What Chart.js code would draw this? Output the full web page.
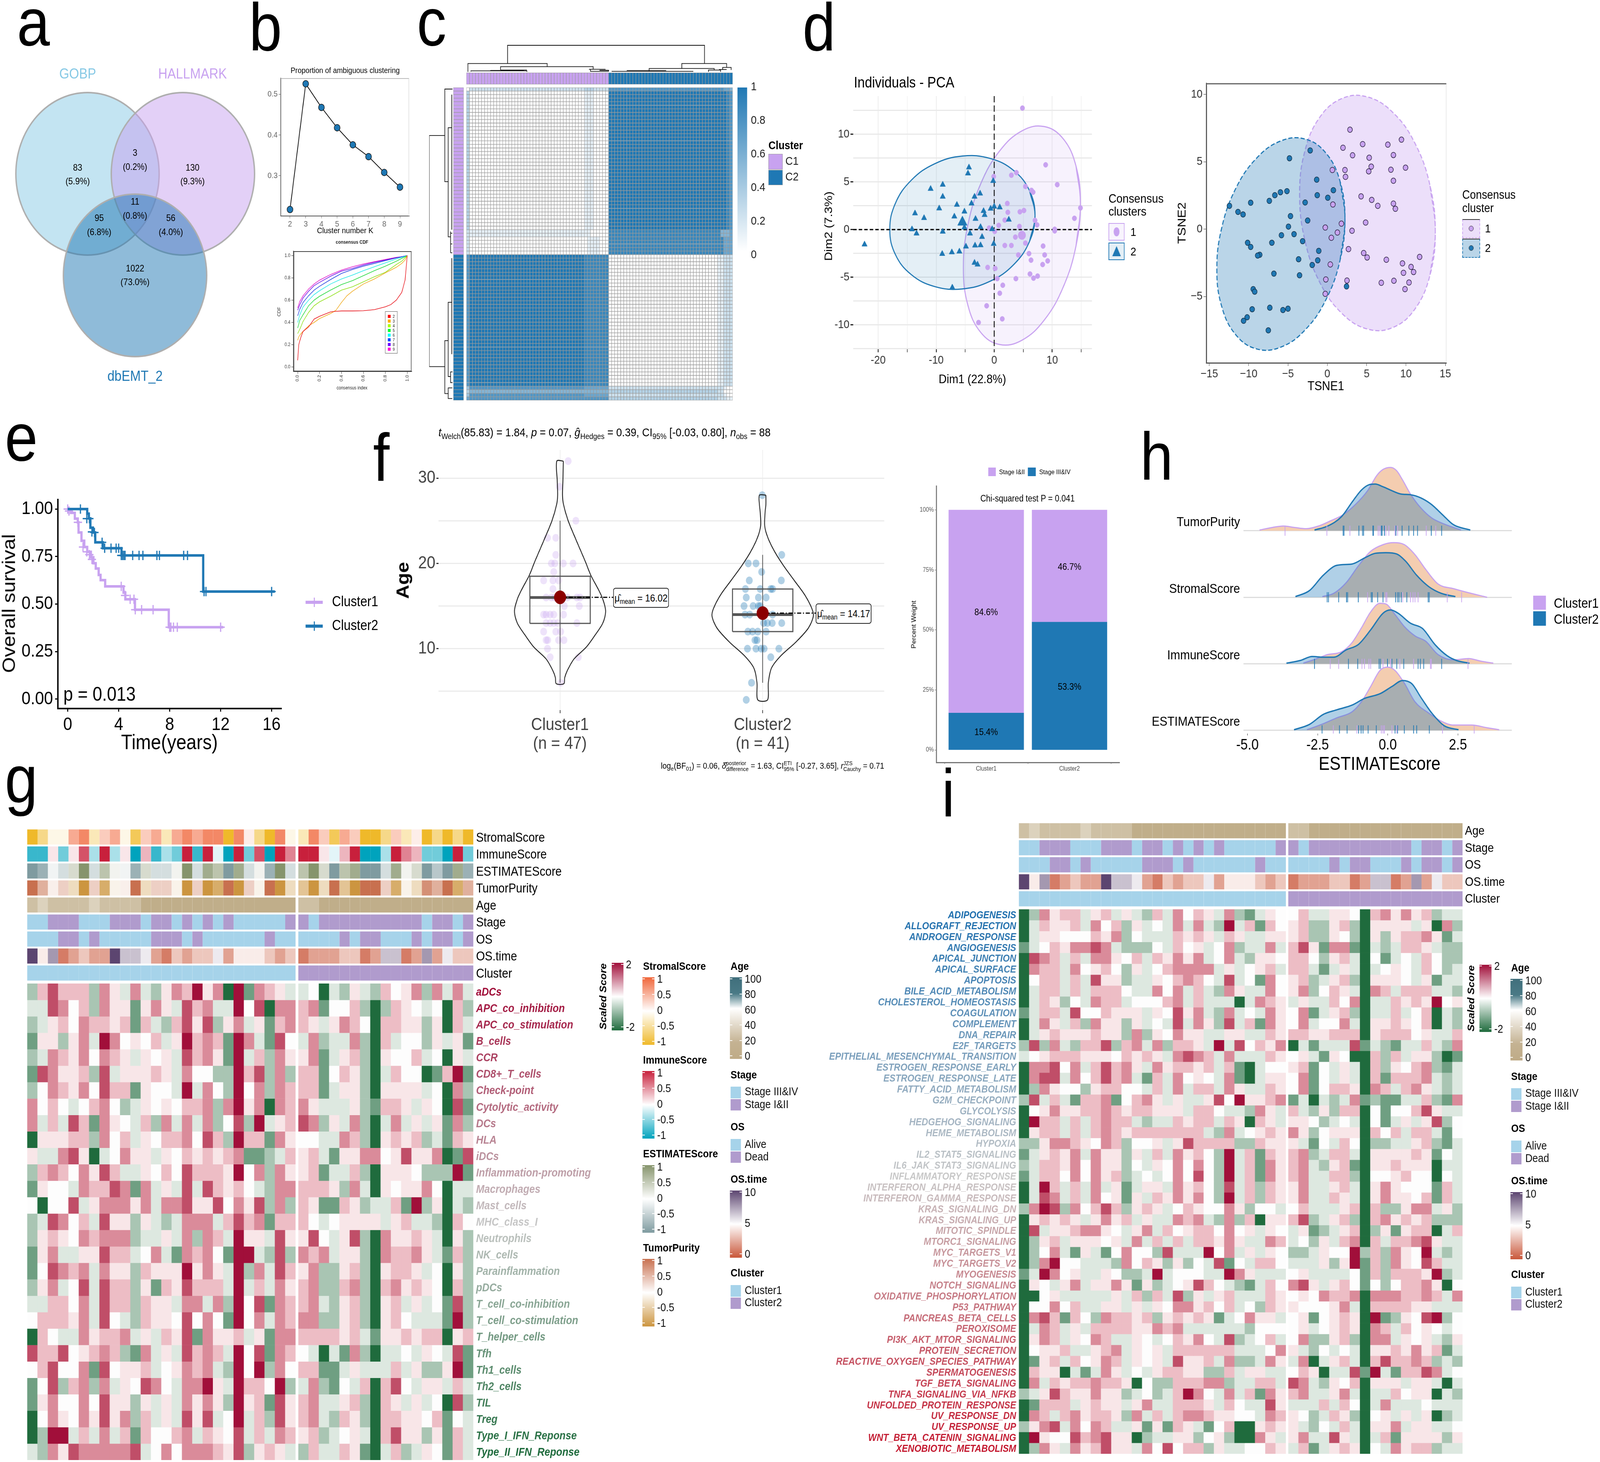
<!DOCTYPE html>
<html>
<head>
<meta charset="utf-8">
<script src="https://cdn.jsdelivr.net/npm/chart.js@4"></script>
<style>
  html, body { margin: 0; padding: 0; background: #fff; width: 100%; height: 100%; overflow: hidden; }
  #page { position: relative; width: 4645px; height: 3743px; overflow: hidden; transform-origin: 0 0; font-family: "Liberation Sans", Arial, sans-serif; }
  #page canvas { position: absolute; }
  .t { position: absolute; white-space: nowrap; line-height: 1; z-index: 5; }
  .t sub, .t sup { font-size: .68em; line-height: 0; }
  .b { position: absolute; box-sizing: border-box; z-index: 4; }
</style>
</head>
<body>
<div id="page"></div>
<script>
// ---- panel a
const vennSets = ['GOBP', 'HALLMARK', 'dbEMT_2'];
const vennCounts = [83, 130, 3, 11, 95, 56, 1022];
const vennPercents = ['5.9', '9.3', '0.2', '0.8', '6.8', '4.0', '73.0'];

// ---- panel b
const clusterK = [2, 3, 4, 5, 6, 7, 8, 9];
const ambiguous = [0.217, 0.526, 0.468, 0.418, 0.376, 0.347, 0.308, 0.272];
const cdfLabels = ['2', '3', '4', '5', '6', '7', '8', '9'];
const cdfXFine = [0, .01, .03, .05, .1, .15, .2, .3, .35, .4, .45, .5, .6, .7, .8, .85, .9, .95, .98, 1];
const cdf2 = [.06, .2, .27, .32, .36, .43, .455, .495, .5, .503, .503, .503, .505, .515, .54, .56, .6, .67, .78, 1];
const cdf3 = [.24, .27, .3, .32, .37, .4, .435, .48, .51, .58, .64, .68, .745, .79, .845, .87, .895, .93, .96, 1];
const cdfX = [0, .02, .05, .1, .15, .2, .3, .4, .5, .6, .7, .8, .9, .95, 1];
const cdf4 = [.3, .34, .41, .49, .55, .585, .635, .69, .72, .765, .81, .85, .92, .95, 1];
const cdf5 = [.35, .42, .47, .55, .6, .635, .69, .74, .775, .82, .865, .905, .95, .975, 1];
const cdf6 = [.4, .47, .54, .6, .65, .685, .745, .79, .825, .865, .9, .935, .97, .985, 1];
const cdf7 = [.46, .52, .58, .64, .69, .725, .785, .84, .875, .905, .93, .955, .98, .99, 1];
const cdf8 = [.51, .56, .62, .68, .73, .76, .815, .86, .885, .915, .94, .96, .98, .99, 1];
const cdf9 = [.53, .59, .64, .7, .745, .78, .83, .87, .9, .925, .945, .965, .985, .99, 1];

// ---- panel c: consensus matrix, rows of the same look share a run list [digit, count]
const consensusRuns = {
  top: [[0, 1], [2, 38], [3, 3], [2, 5], [7, 38], [6, 2], [5, 1]],
  a: [[3, 1], [0, 38], [1, 3], [0, 5], [9, 39], [8, 1], [7, 1]],
  b: [[2, 1], [1, 40], [0, 6], [8, 37], [5, 3], [6, 1]],
  c: [[2, 1], [0, 39], [1, 4], [0, 3], [8, 38], [6, 3]],
  d: [[7, 1], [9, 38], [8, 8], [0, 36], [1, 2], [2, 3]],
  e: [[4, 1], [7, 38], [6, 8], [2, 38], [1, 1], [0, 2]],
  f: [[3, 1], [5, 46], [3, 36], [2, 2], [0, 3]],
  g: [[6, 1], [7, 46], [3, 36], [2, 3], [1, 2]]
};
const consensusRowOrder = [['top', 1], ['a', 39], ['b', 2], ['c', 5], ['d', 37], ['e', 1], ['f', 1], ['e', 1], ['g', 1]];
const consensusC1 = 47, consensusC2 = 41;
const dendroTop = [
  [13.6, .35, 13.6, 1.05, 78.7, 1.05, 78.7, .35],
  [.5, .03, .5, .35, 26.7, .35, 26.7, .23],
  [11.3, .1, 11.3, .23, 41.9, .23, 41.9, .13],
  [1.5, .04, 1.5, .07, 20, .07, 20, .03], [8, .07, 8, .085, 19, .085], [11.3, .1, 20, .1],
  [40.5, .13, 46, .13], [41, .13, 41, .05, 46.9, .05], [44, .09, 47, .09, 47, .04],
  [71.2, .16, 71.2, .35, 86, .35, 86, .2],
  [60.4, .06, 60.4, .16, 81.9, .16, 81.9, .1],
  [48, .05, 75, .05], [53, .08, 66, .08], [80, .03, 80, .1, 84, .1, 84, .03],
  [84.7, .12, 84.7, .2, 87.5, .2, 87.5, .1], [83.5, .12, 86, .12]
];
const dendroLeft = [
  [.343, 13.5, 1, 13.5, 1, 78.5, .343, 78.5],
  [.02, .44, .343, .44, .343, 26.5, .2, 26.5],
  [.05, 11.3, .2, 11.3, .2, 42, .1, 42],
  [.05, 2, .05, 40], [.03, 41, .1, 41], [.03, 44, .1, 44], [.03, 46.5, .1, 46.5], [.1, 40.5, .1, 46.5],
  [.2, 71.2, .343, 71.2, .343, 86.1, .2, 86.1],
  [.05, 60.4, .2, 60.4, .2, 81.3, .1, 81.3], [.05, 48, .05, 75],
  [.03, 84.5, .2, 84.5, .2, 87.5, .03, 87.5], [.02, 80, .1, 80, .1, 83, .02, 83]
];

// ---- panel d
const pca1X = [4.87, 8.87, 3.83, -.09, 2.96, 5.39, 6.43, 6.7, 10.87, 14.87, 13.83, 2.26, 2.35, 4.43, 5.13, 1.83, 7.04, 7.39, .78, 4.35, -.87, 10.43, 10.43, .09, 3.65, 5.39, 1.83, 2.96, 8.43, 4.17, 6, 8.7, 6.35, 9.22, 8.35, -1.13, .17, 6.17, 7.48, 6.78, 3.74, .52, 1.48, .96, -1.3, 1.39, -2.7];
const pca1Y = [12.74, 6.79, 5.97, 5.56, 5.7, 4.52, 4.11, 3.92, 4.71, 2.27, 1.18, 2.74, 1.81, 1.86, 2, .99, .96, .49, .44, .33, .16, .03, -.14, -.19, -.79, -1.42, -1.67, -1.67, -1.73, -2.66, -2.52, -2.66, -3.21, -3.29, -3.67, -3.97, -4.08, -4.66, -4.88, -5.1, -5.15, -5.15, -5.84, -6.68, -8, -9.37, -9.75];
const pca2X = [-4.35, -4.52, -.17, -8.87, -10.96, -2.43, -8.87, -3.39, -3.91, -6.43, 0, .96, -9.48, -.61, -1.83, -5.13, -1.65, -13.65, -6.87, -12.09, -3.22, 2.52, -5.13, -2.35, -.35, -14.17, -8.87, -13.39, -4.17, -2.09, -.09, -4.87, -3.3, -2.35, -8.96, -7.3, -6, -3.39, -2.87, -7.22, -22.35];
const pca2Y = [6.52, 5.89, 5.1, 4.71, 4.27, 3.78, 3.45, 3.45, 2.74, 2.6, 2.41, 2.33, 2.22, 2.19, 1.95, 1.89, 1.53, 1.7, 1.37, 1.21, 1.12, 1.04, .22, .27, .05, .03, -.22, -.41, -.41, -.77, -1.5, -1.78, -1.67, -1.64, -2.55, -2.38, -2.3, -3.48, -3.67, -6.08, -1.56];
const pcaMean1 = [4.78, -.6], pcaMean2 = [-5.48, .77];
const pcaHull1X = [14.87, 14.1, 11.91, 8.64, 4.78, .92, -2.35, -4.54, -5.31, -4.54, -2.35, .92, 4.78, 8.64, 11.91, 14.1];
const pcaHull1Y = [2.73, -1.73, -6.02, -9.49, -11.61, -12.06, -10.77, -7.93, -3.98, .47, 4.76, 8.23, 10.35, 10.8, 9.51, 6.67];
const pcaHull2X = [7.04, 6.09, 3.37, -.69, -5.48, -10.27, -14.33, -17.05, -18, -17.05, -14.33, -10.27, -5.48, -.69, 3.37, 6.09];
const pcaHull2Y = [1.47, -1.25, -3.67, -5.42, -6.23, -5.98, -4.71, -2.6, 0, 2.73, 5.15, 6.9, 7.71, 7.46, 6.19, 4.08];
const tsne1X = [2.88, 9.42, 4.49, 7.69, 1.99, 3.21, 8.4, 5.32, 5.58, 9.94, 2.24, 5.26, 8.08, .64, 2.31, 8.4, 4.29, 5.64, 8.4, 6.41, 8.65, 4.87, 3.14, -.26, 1.28, .51, 2.69, 4.62, 5.06, 7.5, 9.55, 11.73, 10.64, .38, 9.68, 10.96, -.19, 2.5, 6.86, 8.46, 10.38, 9.87, -.26, .71, 1.79];
const tsne1Y = [7.38, 6.64, 6.31, 6.27, 6.04, 5.48, 5.5, 5.3, 4.64, 4.56, 4.39, 4.29, 4.41, 4.39, 3.88, 3.59, 2.43, 2.17, 1.9, 1.73, 1.51, .49, -.12, .12, -.25, -.64, -1.48, -1.77, -2.1, -2.27, -2.54, -2.06, -2.8, -2.62, -3.24, -3.18, -3.73, -3.81, -3.98, -3.83, -3.96, -4.45, -4.8, 1.83, .41];
const tsne2X = [-2.18, -4.81, -1.35, -5.13, -5.96, -6.67, -7.37, -1.28, .77, .06, -2.82, -12.44, -9.74, -11.35, -10.71, -4.68, -2.5, -4.94, -4.23, -5.83, -3.14, -10.13, -7.05, -9.74, -8.59, -8.85, -3.65, -1.09, -1.22, -1.92, -6.79, -3.53, -9.42, -9.23, -9.55, -7.31, -5, -5.64, -10.19, -10.64, -7.5, 2.44];
const tsne2Y = [5.84, 5.26, 3.67, 2.82, 2.74, 2.52, 2.1, 2.52, 2.89, 2.33, 1.98, 1.73, 1.96, 1.28, 1.09, .97, .64, .19, -.37, -.45, -.89, -1.01, -1.01, -1.32, -1.9, -1.96, -2.23, -1.61, -2.31, -2.66, -3.3, -3.42, -4.45, -4.64, -5.94, -5.83, -5.9, -6, -6.54, -6.8, -7.51, -4.25];
const tsneHull1X = [13.72, 13.06, 11.2, 8.4, 5.1, 1.8, -1, -2.86, -3.52, -2.86, -1, 1.8, 5.1, 8.4, 11.2, 13.06];
const tsneHull1Y = [-.19, -3.38, -5.87, -7.28, -7.41, -6.22, -3.9, -.81, 2.59, 5.78, 8.27, 9.68, 9.81, 8.62, 6.3, 3.21];
const tsneHull2X = [2.24, 1.62, -.14, -2.78, -5.9, -9.02, -11.66, -13.42, -14.04, -13.42, -11.66, -9.02, -5.9, -2.78, -.14, 1.62];
const tsneHull2Y = [.76, -2.3, -5.19, -7.45, -8.75, -8.88, -7.82, -5.74, -2.97, .1, 2.99, 5.25, 6.55, 6.68, 5.62, 3.54];

// ---- panel e
const kmTime1 = [0, .25, .56, .79, .85, 1.08, 1.3, 1.53, 1.82, 2.02, 2.2, 2.43, 2.58, 2.94, 4.38, 4.52, 5.28, 7.93, 12.2];
const kmSurv1 = [1, .98, .95, .93, .877, .833, .8, .775, .746, .715, .687, .653, .626, .593, .56, .525, .47, .378, .378];
const kmTime2 = [0, 1.42, 1.53, 1.66, 1.78, 1.98, 2.16, 2.76, 4.22, 10.63, 16.25];
const kmSurv2 = [1, 1, .976, .951, .902, .877, .825, .794, .756, .566, .566];
const kmCensorT1 = [0, .1, .8, 1.2, 1.5, 1.7, 1.9, 4.2, 4.5, 4.9, 5.2, 5.3, 5.8, 6.7, 8, 8.1, 8.3, 8.6, 12];
const kmCensorS1 = [1, .99, .93, .8, .775, .76, .735, .593, .545, .525, .525, .47, .47, .47, .378, .378, .378, .378, .378];
const kmCensorT2 = [1, 1.5, 1.7, 1.9, 2.1, 2.7, 2.9, 3.4, 3.8, 4, 4.2, 4.3, 4.4, 4.5, 5.1, 5.6, 5.9, 7, 7.2, 9.1, 9.4, 10.7, 10.85, 16];
const kmCensorS2 = [1, .95, .95, .88, .877, .825, .794, .794, .794, .794, .756, .756, .756, .756, .756, .756, .756, .756, .756, .756, .756, .566, .566, .566];

// ---- panel f
const violinAge1 = [32, 29.7, 28, 26.9, 25, 22.7, 20.2, 18.6, 16.9, 15.8, 14.4, 13, 11.6, 10.2, 8.8, 7.4, 6.6, 5.9];
const violinWidth1 = [.016, .014, .012, .017, .04, .08, .125, .152, .19, .211, .225, .211, .173, .13, .069, .035, .023, .019];
const violinAge2 = [28, 26.9, 26, 24.4, 23, 21.3, 19.7, 18, 16.3, 14.7, 13.8, 12.4, 10.8, 9.1, 7.7, 6, 4];
const violinWidth2 = [.016, .016, .012, .01, .026, .061, .104, .156, .208, .243, .25, .225, .165, .087, .043, .028, .024];
const ageOffset1 = [.04, -.003, .078, -.062, -.021, -.021, -.043, -.026, .016, .064, -.031, -.081, -.035, -.007, -.035, -.069, -.043, -.026, 0, .036, .083, .099, .021, .095, -.081, -.069, -.049, -.031, .017, -.069, -.049, -.031, -.012, .083, -.081, -.021, .003, -.069, -.061, -.007, .019, -.062, -.049, .09, .003];
const ageValue1 = [32, 29, 25, 23, 23, 21, 20, 20, 20, 20, 19, 18, 18, 18, 17, 16, 16, 16, 16, 16, 16, 16, 15, 15, 14, 14, 14, 14, 14, 13, 13, 13, 13, 13, 12, 12, 12, 11, 11, 11, 11, 10, 9, 9, 6];
const ageOffset2 = [-.002, .094, -.071, -.033, -.005, -.066, .092, -.085, -.012, .04, .049, -.081, -.021, .017, -.092, -.047, -.021, -.012, -.087, -.064, .049, .005, .023, .047, .094, -.073, -.05, -.024, .017, -.038, -.028, -.075, -.033, -.007, .007, .08, .04, -.055, -.081];
const ageValue2 = [28, 21, 20, 20, 19, 18, 18, 17, 17, 17, 17, 16, 16, 16, 15, 15, 15, 15, 14, 14, 14, 13, 13, 13, 13, 12, 12, 12, 12, 11, 11, 10, 10, 10, 10, 10, 9, 6, 4];
const boxQ1 = [12.97, 12], boxMedian = [16, 14], boxQ3 = [18.5, 17], whiskerLow = [6, 6], whiskerHigh = [25, 21];
const ageMeans = [16.02, 14.17];
const stageGroups = ['Cluster1', 'Cluster2'];
const stageEarly = [84.6, 46.7];
const stageLate = [15.4, 53.3];

// ---- panel h
const ridgeNames = ['TumorPurity', 'StromalScore', 'ImmuneScore', 'ESTIMATEScore'];
const tumorX1 = [-4.57, -4.1, -3.72, -3.34, -2.9, -2.47, -2.03, -1.59, -1.16, -.72, -.39, -.17, .1, .32, .53, .81, 1.14, 1.57, 2.01, 2.61];
const tumorH1 = [.01, .05, .07, .05, .03, .07, .15, .24, .39, .6, .83, .92, .95, .9, .76, .55, .36, .19, .1, .01];
const tumorX2 = [-2.61, -2.14, -1.65, -1.27, -.94, -.67, -.45, -.17, .15, .48, .81, 1.19, 1.57, 1.95, 2.34, 2.94];
const tumorH2 = [.01, .07, .21, .43, .61, .69, .7, .66, .6, .55, .54, .49, .39, .24, .09, .01];
const stromalX1 = [-2.33, -1.92, -1.48, -1.05, -.61, -.17, .21, .59, .97, 1.35, 1.79, 2.34, 2.77, 3.54];
const stromalH1 = [.01, .06, .22, .47, .69, .79, .82, .79, .64, .42, .2, .13, .08, 0];
const stromalX2 = [-3.29, -2.79, -2.3, -1.81, -1.27, -.83, -.45, -.07, .32, .64, 1.03, 1.46, 1.9, 2.41];
const stromalH2 = [.01, .1, .33, .48, .5, .59, .66, .67, .65, .54, .33, .16, .06, .01];
const immuneX1 = [-3.01, -2.58, -2.14, -1.65, -1.27, -.94, -.61, -.28, -.07, .26, .59, .97, 1.35, 1.79, 2.34, 2.88, 3.32, 3.76];
const immuneH1 = [.01, .07, .14, .18, .32, .54, .78, .91, .9, .74, .56, .42, .34, .14, .06, .08, .04, .01];
const immuneX2 = [-3.61, -3.12, -2.69, -2.3, -1.92, -1.48, -1.05, -.61, -.17, .1, .37, .81, 1.24, 1.68, 2.12, 2.45, 2.91];
const immuneH2 = [.01, .05, .11, .1, .1, .21, .29, .51, .76, .81, .76, .61, .53, .29, .12, .05, .01];
const estimateX1 = [-2.88, -2.36, -1.81, -1.27, -.94, -.61, -.28, -.01, .26, .59, .97, 1.46, 1.9, 2.34, 2.99, 3.54, 3.97];
const estimateH1 = [.01, .09, .19, .28, .43, .66, .9, .95, .9, .71, .43, .26, .14, .08, .08, .04, .01];
const estimateX2 = [-3.34, -2.79, -2.3, -1.81, -1.27, -.83, -.28, .15, .53, .86, 1.19, 1.57, 2.01, 2.52];
const estimateH2 = [.01, .09, .24, .31, .38, .48, .55, .66, .75, .7, .49, .26, .07, .01];
const tumorRug1 = [-3.66, -2.17, -1.35, -.34, -.28, -.07, .04, .26, .35, 1.37, 1.71];
const tumorRug2 = [-1.59, -1.56, -1.03, -.9, -.86, -.53, -.51, -.23, -.2, -.12, .29, .51, .75, .92, 1.06, 1.55, 1.92];
const stromalRug1 = [2.12, 2.63, -.72, -.07, -.03, .53, .81, .9, .97, 1.08];
const stromalRug2 = [-2.16, -2.11, -1.75, -1.47, -1.43, -1.05, -.59, -.55, -.36, -.17, .28, .35, .4, .48, .68, 1.44, 1.48];
const immuneRug1 = [-2.05, -1.75, -.92, -.83, -.67, -.61, -.17, .1, .43, .92, 1.52, 1.55, 2.86];
const immuneRug2 = [-2.61, -1.4, -1.07, -.31, -.26, -.01, .15, .32, .57, 1.08, 1.16, 1.28, 1.92];
const estimateRug1 = [-1.94, -1.1, -.23, -.17, -.12, .15, .32, 1.95, 3.08];
const estimateRug2 = [-2.34, -1.72, -1.45, -1.04, -.95, -.88, -.7, -.41, .26, .35, .59, .92, 1.03, 1.48];

// ---- annotation tracks shared by panels g and i: digit per sample, left block | right block
const trackStromal = '02447 83674 16737 87880 85208 4|38617 60026 35020 20';
const trackImmune = '11525 83935 06132 91940 92809 7|99546 90039 76220 92';
const trackEstimate = '01436 93754 16335 93870 83519 3|79607 80038 56020 81';
const trackTumor = '97563 06145 93664 06019 06490 3|20392 09961 43879 17';
const trackAge = '12111 12111 10000 00000 00000 0|11000 00000 00000 00';
const trackStage = '00111 00011 10110 10101 00000 1|10 11111 11111 0 11 0 1';
const trackOS = '00011 01000 00111 01000 00010 0|00001 01100 01011 01';
const trackOSTime = '94712 32296 65213 23352 44432 33|12223 31266 12725 33';

// ---- panel g rows
const immuneRowNames = ['aDCs', 'APC_co_inhibition', 'APC_co_stimulation', 'B_cells', 'CCR', 'CD8+_T_cells', 'Check-point', 'Cytolytic_activity', 'DCs', 'HLA', 'iDCs', 'Inflammation-promoting', 'Macrophages', 'Mast_cells', 'MHC_class_I', 'Neutrophils', 'NK_cells', 'Parainflammation', 'pDCs', 'T_cell_co-inhibition', 'T_cell_co-stimulation', 'T_helper_cells', 'Tfh', 'Th1_cells', 'Th2_cells', 'TIL', 'Treg', 'Type_I_IFN_Reponse', 'Type_II_IFN_Reponse'];
const immuneRows = [
  '26866 62753 73257 69570 91765 3|34032 53264 57273 73',
  '33874 62755 15753 86733 94807 7|67144 62026 54340 62',
  '23564 76656 16326 85825 73516 7|65357 64066 55250 63',
  '15525 73974 54635 96761 97318 4|37233 72063 44253 51',
  '23765 74765 35453 86751 93627 5|57135 62054 46340 53',
  '18755 62835 55653 74422 96827 2|66146 52036 44016 91',
  '24765 74866 15443 93742 94727 6|66135 52055 55340 72',
  '74643 46742 35454 66727 95707 6|75333 52166 53540 81',
  '73638 61754 36273 73724 82935 6|87253 72037 35351 72',
  '05556 62746 35466 74862 96617 5|44337 62056 56231 65',
  '53378 50347 55354 65656 71123 6|56315 57745 85570 18',
  '26764 75863 35464 86665 94727 5|56133 62055 54222 91',
  '15443 76687 17353 83865 64327 7|66652 73054 55740 33',
  '40448 35777 57377 85584 75827 2|65116 52336 19250 32',
  '23874 63855 25323 77736 86716 6|64345 55535 63320 64',
  '25654 76777 23353 72763 95538 5|58435 82075 56530 52',
  '15733 55866 34731 76741 99328 2|76735 52076 67531 62',
  '14876 73755 26555 95753 92738 6|57225 62056 65340 52',
  '25734 83866 25165 86663 93637 5|67226 72067 56540 62',
  '33664 73866 26553 77372 94817 6|67325 62056 35341 82',
  '46665 73843 26554 84741 94737 6|77225 62056 43331 92',
  '06433 75667 35365 81755 63517 7|66665 63155 65660 56',
  '86684 56762 17353 86763 94817 6|43031 72033 43543 81',
  '46844 71845 56345 76732 94927 4|66113 53336 35225 91',
  '14826 72735 48743 77953 96649 2|37214 36068 43553 63',
  '15744 74855 25353 75752 95618 5|67335 62065 35340 82',
  '04754 75857 26353 85834 93628 5|67326 52066 55461 43',
  '02993 63736 16446 73654 83637 6|56234 53068 55251 63',
  '32758 77777 83474 77765 82565 3|26336 51036 23541 63'
];

// ---- panel i rows
const hallmarkRowNames = ['ADIPOGENESIS', 'ALLOGRAFT_REJECTION', 'ANDROGEN_RESPONSE', 'ANGIOGENESIS', 'APICAL_JUNCTION', 'APICAL_SURFACE', 'APOPTOSIS', 'BILE_ACID_METABOLISM', 'CHOLESTEROL_HOMEOSTASIS', 'COAGULATION', 'COMPLEMENT', 'DNA_REPAIR', 'E2F_TARGETS', 'EPITHELIAL_MESENCHYMAL_TRANSITION', 'ESTROGEN_RESPONSE_EARLY', 'ESTROGEN_RESPONSE_LATE', 'FATTY_ACID_METABOLISM', 'G2M_CHECKPOINT', 'GLYCOLYSIS', 'HEDGEHOG_SIGNALING', 'HEME_METABOLISM', 'HYPOXIA', 'IL2_STAT5_SIGNALING', 'IL6_JAK_STAT3_SIGNALING', 'INFLAMMATORY_RESPONSE', 'INTERFERON_ALPHA_RESPONSE', 'INTERFERON_GAMMA_RESPONSE', 'KRAS_SIGNALING_DN', 'KRAS_SIGNALING_UP', 'MITOTIC_SPINDLE', 'MTORC1_SIGNALING', 'MYC_TARGETS_V1', 'MYC_TARGETS_V2', 'MYOGENESIS', 'NOTCH_SIGNALING', 'OXIDATIVE_PHOSPHORYLATION', 'P53_PATHWAY', 'PANCREAS_BETA_CELLS', 'PEROXISOME', 'PI3K_AKT_MTOR_SIGNALING', 'PROTEIN_SECRETION', 'REACTIVE_OXYGEN_SPECIES_PATHWAY', 'SPERMATOGENESIS', 'TGF_BETA_SIGNALING', 'TNFA_SIGNALING_VIA_NFKB', 'UNFOLDED_PROTEIN_RESPONSE', 'UV_RESPONSE_DN', 'UV_RESPONSE_UP', 'WNT_BETA_CATENIN_SIGNALING', 'XENOBIOTIC_METABOLISM'];
const hallmarkRows = [
  '02756 63563 53263 74653 72135 4|46335 54067 57562 33',
  '03655 63746 25343 73732 93616 4|56225 62055 55350 72',
  '03554 44657 24333 65653 65335 5|56225 42052 56675 13',
  '13465 77873 22243 64534 72337 3|68517 71032 36653 22',
  '08763 63775 46365 75734 73255 4|66425 63041 34364 22',
  '07663 74564 25346 77773 53456 3|66313 53034 54364 23',
  '04663 63855 23354 67643 83417 4|56235 62055 54351 33',
  '03663 63666 43374 73632 75337 4|57246 53076 36663 32',
  '03652 43766 34446 73633 30376 5|35336 47033 65659 45',
  '13663 84465 55354 85732 73437 5|47135 62033 63460 32',
  '03753 62755 25343 83752 83617 5|47344 73055 65460 32',
  '03565 55655 27254 75533 55336 5|66556 66056 66453 36',
  '28273 26682 67372 66539 38465 7|03133 38132 13363 27',
  '34566 65554 65653 78763 73336 5|45315 40062 63552 01',
  '07784 73686 75375 66563 61034 4|56143 53062 54672 13',
  '07883 74686 73163 74543 71035 5|47143 53061 66673 23',
  '02754 42566 44363 73663 75336 5|47146 65076 36753 23',
  '28363 16671 46753 53358 49556 7|13032 37121 13362 17',
  '04575 56676 56655 53664 33275 3|63252 66041 44685 33',
  '09663 63676 63233 65663 65065 3|55423 43041 35358 24',
  '05663 63676 56666 66632 73456 5|75245 55064 63663 14',
  '22577 65476 24453 58666 62265 5|53143 64022 33562 13',
  '13565 73755 25363 75642 93616 5|67236 63055 55651 43',
  '23665 74755 24354 74742 93617 5|67325 61055 65550 33',
  '13664 74756 23434 74842 93617 5|67336 62044 56440 43',
  '03963 63735 13553 75642 83626 5|57335 63057 54441 63',
  '03873 63745 15365 75742 93626 5|57336 53057 55461 63',
  '27982 74686 25653 46544 75244 3|46333 56062 25773 52',
  '05656 53575 63533 76732 72605 5|68235 62067 56562 22',
  '08355 67754 35736 45664 74535 4|35123 56025 15660 36',
  '02563 55545 37363 63665 75337 6|34253 67063 66785 33',
  '02473 15314 74428 33394 73535 4|22354 49262 75493 23',
  '02794 43332 74652 52438 14366 4|33352 59162 75486 33',
  '13974 53354 22393 44433 97533 3|45333 34162 66659 23',
  '05435 73557 51523 45864 32136 4|78535 64142 46675 04',
  '00453 33335 36263 82535 63336 5|45476 67077 76676 37',
  '04474 63355 35354 77564 63426 5|54445 73066 66553 33',
  '07861 64276 65625 65651 34755 3|45145 65091 25489 24',
  '03763 53666 65576 73333 33244 4|45345 65076 36454 34',
  '05763 54763 35434 65743 82346 3|47225 62077 35453 25',
  '04556 33567 35453 66666 63334 7|53243 43055 65756 13',
  '01563 64576 35453 85563 72237 5|37035 63068 66762 32',
  '06550 31375 34356 65522 63553 3|46503 38193 16687 34',
  '07365 66766 50422 66677 23366 3|87325 46055 53553 03',
  '23586 55755 23423 69743 73617 5|67335 73033 64550 32',
  '01666 35655 35733 66653 64338 5|33363 64037 33343 33',
  '07636 75665 27363 67765 54437 6|54236 52045 35350 23',
  '25783 74763 35151 65314 60056 5|53243 63055 73553 34',
  '09544 86785 50233 55245 20075 3|57338 53036 15555 25',
  '02753 75685 53748 46625 33446 5|36135 65043 75662 33'
];

// ---- colours
const PURPLE = '#c8a2f0', BLUE = '#1f78b4', LBLUE = '#87c9e5';
const TRACK_BLUE = '#a6d3ea', TRACK_PURPLE = '#b09bcd';
const heatPalette = ['#1f6b3d', '#6f9f82', '#a9c5b3', '#dde8e0', '#fdfdfd', '#f8e6e8', '#edbdc5', '#da8b9a', '#c04e68', '#a10f3a'];

Chart.defaults.font.family = '"Liberation Sans", Arial, sans-serif';
Chart.defaults.animation = false;
Chart.defaults.responsive = false;
Chart.defaults.devicePixelRatio = 1;
Chart.defaults.plugins.legend.display = false;
Chart.defaults.plugins.tooltip.enabled = false;

const page = document.getElementById('page');
// the browser may cap the window below the figure size, so fit the figure to what is there
page.style.transform = `scale(${Math.min(1, innerWidth / 4645)},${Math.min(1, innerHeight / 3743)})`;

function hex(c) { return [1, 3, 5].map(i => parseInt(c.substr(i, 2), 16)); }
function mix(a, b, t) {
  const A = hex(a), B = hex(b);
  const C = A.map((v, i) => Math.round(v + (B[i] - v) * t));
  return '#' + C.map(v => v.toString(16).padStart(2, '0')).join('');
}
function diverge(low, high) {
  return d => { const v = (d - 4.5) / 4.5; return v < 0 ? mix('#ffffff', low, -v) : mix('#ffffff', high, v); };
}
function pairs(xs, ys) { return xs.map((x, i) => ({ x, y: ys[i] })); }
// outline points of a hull, wrapped round so the curve closes without a kink
function loop(list) { return [list[list.length - 1], ...list, list[0], list[1]]; }

// text placed by its anchor point, y is the vertical middle
function txt(str, x, y, o = {}) {
  const el = document.createElement('div');
  el.className = 't';
  el.innerHTML = str;
  const ax = o.anchor === 'r' ? -100 : o.anchor === 'c' ? -50 : 0;
  el.style.cssText = `left:${x}px;top:${y}px;font-size:${o.size || 30}px;color:${o.color || '#000'};` +
    `font-weight:${o.bold ? 'bold' : 'normal'};font-style:${o.italic ? 'italic' : 'normal'};` +
    `transform:translate(${ax}%,-50%)${o.rot ? ` rotate(${o.rot}deg)` : ''};`;
  page.appendChild(el);
  return el;
}
function box(x0, y0, x1, y1, css) {
  const el = document.createElement('div');
  el.className = 'b';
  el.style.cssText = `left:${x0}px;top:${y0}px;width:${x1 - x0}px;height:${y1 - y0}px;` + css;
  page.appendChild(el);
  return el;
}
function stacked2(sup, sub) {
  return `<span style="display:inline-block;vertical-align:middle;font-size:.68em;line-height:1">${sup}<br>${sub}</span>`;
}

// a chart whose plot area is exactly x0..x1, y0..y1 on the page
function addChart(area, config, margin = 100) {
  const [x0, y0, x1, y1] = area;
  const c = document.createElement('canvas');
  c.width = Math.round(x1 - x0 + 2 * margin);
  c.height = Math.round(y1 - y0 + 2 * margin);
  c.style.left = (x0 - margin) + 'px';
  c.style.top = (y0 - margin) + 'px';
  c.style.width = c.width + 'px';
  c.style.height = c.height + 'px';
  page.appendChild(c);
  const s = config.options.scales;
  const xShown = s.x.display !== false, yShown = s.y.display !== false;
  if (xShown) s.x.afterFit = a => { a.height = margin; };
  if (yShown) s.y.afterFit = a => { a.width = margin; };
  config.options.layout = { autoPadding: false, padding: { top: margin, right: margin, left: yShown ? 0 : margin, bottom: xShown ? 0 : margin } };
  return new Chart(c, config);
}

// cells as stacked bars; colours is rows of per-column colours
function heatChart(area, colours, cell = {}, margin = 2) {
  addChart(area, {
    type: 'bar',
    data: {
      labels: colours[0].map((_, i) => i),
      datasets: colours.map(row => ({
        data: row.map(() => 1),
        backgroundColor: row,
        barPercentage: 1,
        categoryPercentage: 1,
        borderWidth: cell.borderWidth || 0,
        borderColor: cell.borderColor || '#fff',
        borderSkipped: false
      }))
    },
    options: {
      scales: {
        x: { display: false, stacked: true, type: 'category', offset: true },
        y: { display: false, stacked: true, min: 0, max: colours.length, reverse: true }
      }
    }
  }, margin);
}

function outline(xs, ys, stroke, extra = {}) {
  return Object.assign({ data: pairs(xs, ys), showLine: true, pointRadius: 0, borderColor: stroke, borderWidth: 3, backgroundColor: 'transparent' }, extra);
}
function axisTicks(size, color, extra = {}) {
  return Object.assign({ font: { size }, color, autoSkip: false, maxRotation: 0, includeBounds: false }, extra);
}

// panel letters, y is the baseline
const LETTER = 172;
[['a', 49, 114], ['b', 723, 127], ['c', 1210, 114], ['d', 2330, 127], ['e', 14, 1177], ['f', 1083, 1229], ['g', 14, 2052], ['h', 3310, 1226], ['i', 2734, 2088]]
  .forEach(([l, x, y]) => txt(l, x, y - 0.34 * LETTER, { size: LETTER }));

// ---- a: venn
const vennCentres = [[254, 445], [531, 445], [392, 705]];
addChart([0, 200, 800, 960], {
  type: 'bubble',
  data: {
    datasets: [2, 1, 0].map(i => ({
      label: vennSets[i],
      data: [{ x: vennCentres[i][0], y: vennCentres[i][1], r: 208 }],
      backgroundColor: [LBLUE + '80', PURPLE + '80', BLUE + '80'][i],
      borderColor: '#aeaeae',
      borderWidth: 4,
      clip: false
    }))
  },
  options: { scales: { x: { display: false, min: 0, max: 800 }, y: { display: false, min: 200, max: 960, reverse: true } } }
}, 2);
txt(vennSets[0], 225.5, 187.5, { size: 37, color: LBLUE, anchor: 'c' });
txt(vennSets[1], 559, 187.5, { size: 37, color: PURPLE, anchor: 'c' });
txt(vennSets[2], 392, 962, { size: 37, color: BLUE, anchor: 'c' });
[[225.5, 428.7], [559, 428.7], [392, 391], [392, 516], [288, 558], [496, 558], [392, 686.5]].forEach(([x, y], i) => {
  txt(String(vennCounts[i]), x, y, { size: 24, anchor: 'c' });
  txt('(' + vennPercents[i] + '%)', x, y + 35.5, { size: 24, anchor: 'c' });
});

// ---- b: ambiguous clustering
addChart([815, 200, 1188, 553], {
  type: 'scatter',
  data: {
    datasets: [{
      data: pairs(clusterK, ambiguous), showLine: true, borderColor: '#000', borderWidth: 2,
      pointRadius: 8.5, pointBackgroundColor: BLUE, pointBorderColor: '#111', pointBorderWidth: 1.5
    }]
  },
  options: {
    scales: {
      x: { min: 1.41, max: 9.59, grid: { drawOnChartArea: false, tickColor: '#555', tickLength: 6 }, border: { color: '#555', width: 2 }, ticks: axisTicks(21, '#666', { stepSize: 1 }) },
      y: { min: .201, max: .54, grid: { drawOnChartArea: false, tickColor: '#555', tickLength: 6 }, border: { color: '#555', width: 2 }, ticks: axisTicks(21, '#666', { stepSize: .1, callback: v => v.toFixed(1) }) }
    }
  }
});
box(815, 200, 1188, 553, 'border-top:2px solid #bbb;border-right:2px solid #ddd;');
txt('Proportion of ambiguous clustering', 1002, 179.5, { size: 20.5, anchor: 'c' });
txt('Cluster number K', 1002, 589, { size: 21, anchor: 'c' });

// ---- b: consensus CDF
const cdfColours = ['#ff0000', '#ffaa00', '#aaff00', '#00ff2a', '#00ffff', '#0040ff', '#6a00ff', '#ff00d4'];
const cdfLineColours = ['#e8131b', '#f0a818', '#8fe018', '#22d83c', '#22e8e8', '#1c3fe0', '#6a10e8', '#e010c8'];
addChart([852, 643, 1195, 951], {
  type: 'scatter',
  data: {
    datasets: [[cdfXFine, cdf2], [cdfXFine, cdf3], [cdfX, cdf4], [cdfX, cdf5], [cdfX, cdf6], [cdfX, cdf7], [cdfX, cdf8], [cdfX, cdf9]]
      .map(([xs, ys], i) => outline(xs, ys, cdfLineColours[i], { borderWidth: 1.6 }))
  },
  options: {
    scales: {
      x: { min: -.038, max: 1.04, grid: { drawOnChartArea: false, tickColor: '#333', tickLength: 6 }, border: { color: '#333', width: 2 }, ticks: axisTicks(12, '#333', { stepSize: .2, maxRotation: 90, minRotation: 90, callback: v => v.toFixed(1) }) },
      y: { min: -.04, max: 1.04, grid: { drawOnChartArea: false, tickColor: '#333', tickLength: 6 }, border: { color: '#333', width: 2 }, ticks: axisTicks(12, '#333', { stepSize: .2, callback: v => v.toFixed(1) }) }
    }
  }
});
box(852, 643, 1195, 951, 'border:2px solid #444;');
txt('consensus CDF', 1022, 620, { size: 12.5, bold: true, anchor: 'c', color: '#222' });
txt('consensus index', 1022, 993, { size: 12, anchor: 'c', color: '#222' });
txt('CDF', 810, 798, { size: 12, anchor: 'c', rot: -90, color: '#222' });
box(1118, 797, 1154, 905, 'border:1.5px solid #555;background:#fff;');
cdfLabels.forEach((l, i) => {
  box(1126, 806 + i * 12, 1134, 814 + i * 12, `background:${cdfColours[i]};`);
  txt(l, 1143, 810 + i * 12, { size: 11, anchor: 'c', color: '#222' });
});

// ---- c: consensus heatmap
function expandRuns(runs) {
  const out = [];
  runs.forEach(([d, n]) => { for (let i = 0; i < n; i++) out.push(d); });
  return out;
}
const consensusColour = d => mix('#ffffff', BLUE, d / 9);
const consensusColours = [];
consensusRowOrder.forEach(([kind, n]) => {
  const row = expandRuns(consensusRuns[kind]).map(consensusColour);
  for (let i = 0; i < n; i++) consensusColours.push(row);
});
const clusterStrip = [...Array(consensusC1).fill(PURPLE), ...Array(consensusC2).fill(BLUE)];
heatChart([1353.5, 224, 2126.5, 1025], consensusColours, { borderWidth: 1, borderColor: '#9a9a9a' });
heatChart([1353.5, 186, 2126.5, 216], [clusterStrip], { borderWidth: 1, borderColor: '#9a9a9a' });
heatChart([1316, 224, 1346, 1025], clusterStrip.map(c => [c]), { borderWidth: 1, borderColor: '#9a9a9a' });
function polylines(list) {
  return list.map(l => {
    const data = [];
    for (let i = 0; i < l.length; i += 2) data.push({ x: l[i], y: l[i + 1] });
    return { data, showLine: true, pointRadius: 0, borderColor: '#111', borderWidth: 1.8 };
  });
}
addChart([1353.5, 110, 2126.5, 186], {
  type: 'scatter', data: { datasets: polylines(dendroTop) },
  options: { scales: { x: { display: false, min: 0, max: 88 }, y: { display: false, min: 0, max: 1.14 } } }
}, 4);
addChart([1246, 224, 1315, 1025], {
  type: 'scatter', data: { datasets: polylines(dendroLeft) },
  options: { scales: { x: { display: false, min: 0, max: 1, reverse: true }, y: { display: false, min: 0, max: 88, reverse: true } } }
}, 4);
box(2140.6, 224, 2169, 643, `background:linear-gradient(to bottom,${BLUE},#ffffff);`);
[['1', 221], ['0.8', 307], ['0.6', 393], ['0.4', 479], ['0.2', 565], ['0', 651]].forEach(([l, y]) => txt(l, 2180, y, { size: 30, color: '#222' }));
txt('Cluster', 2231, 372, { size: 29, bold: true });
box(2231, 394, 2272, 434, `background:${PURPLE};border:1.5px solid #999;`);
box(2231, 435, 2272, 474, `background:${BLUE};border:1.5px solid #999;`);
txt('C1', 2280, 412, { size: 30, color: '#222' });
txt('C2', 2280, 452, { size: 30, color: '#222' });

// ---- d: PCA
addChart([2477, 246, 3170, 894], {
  type: 'scatter',
  data: {
    datasets: [
      { data: pairs(pca2X, pca2Y), pointStyle: 'triangle', pointRadius: 9, pointBackgroundColor: BLUE, pointBorderColor: BLUE },
      { data: pairs(pca1X, pca1Y), pointRadius: 6.5, pointBackgroundColor: PURPLE, pointBorderColor: PURPLE },
      { data: [{ x: pcaMean2[0], y: pcaMean2[1] }], pointStyle: 'triangle', pointRadius: 16, pointBackgroundColor: BLUE, pointBorderColor: BLUE },
      { data: [{ x: pcaMean1[0], y: pcaMean1[1] }], pointRadius: 11, pointBackgroundColor: PURPLE, pointBorderColor: PURPLE },
      outline([-24.3, 16.85], [0, 0], '#111', { borderWidth: 3.5, borderDash: [10, 6] }),
      outline([0, 0], [14, -12.55], '#111', { borderWidth: 2.5, borderDash: [16, 8] }),
      outline(loop(pcaHull2X), loop(pcaHull2Y), BLUE, { tension: .4, fill: 'shape', backgroundColor: 'rgba(31,120,180,.12)', borderWidth: 3 }),
      outline(loop(pcaHull1X), loop(pcaHull1Y), PURPLE, { tension: .4, fill: 'shape', backgroundColor: 'rgba(200,162,240,.14)', borderWidth: 3 })
    ]
  },
  options: {
    scales: {
      x: { min: -24.3, max: 16.85, grid: { color: '#efefef', lineWidth: c => c.tick.value % 10 === 0 ? 2.5 : 1.5, tickColor: '#222', tickLength: 8 }, border: { display: false }, ticks: axisTicks(30, '#333', { stepSize: 5, callback: v => v % 10 === 0 ? String(v) : '' }) },
      y: { min: -12.55, max: 14, grid: { color: '#e9e9e9', lineWidth: 3, tickColor: c => c.tick.value % 5 === 0 ? '#222' : 'transparent', tickLength: 8 }, border: { display: false }, ticks: axisTicks(30, '#333', { stepSize: 2.5, callback: v => v % 5 === 0 ? String(v) : '' }) }
    }
  }
});
txt('Individuals - PCA', 2479, 211, { size: 38 });
txt('Dim1 (22.8%)', 2823, 970, { size: 32, anchor: 'c' });
txt('Dim2 (7.3%)', 2404, 579, { size: 32, anchor: 'c', rot: -90 });
txt('Consensus', 3218, 508, { size: 32 });
txt('clusters', 3218, 541, { size: 32 });
box(3218, 571, 3265, 616, `border:2.5px solid ${PURPLE};background:rgba(200,162,240,.12);`);
box(3233, 582, 3250, 605, `background:${PURPLE};border-radius:50%;`);
box(3218, 621, 3265, 666, `border:2.5px solid ${BLUE};background:rgba(31,120,180,.12);`);
box(3229, 630, 3254, 656, `background:${BLUE};clip-path:polygon(50% 0,100% 100%,0 100%);`);
txt('1', 3282, 594, { size: 30 });
txt('2', 3282, 644, { size: 30 });

// ---- d: tSNE
addChart([3502, 213, 4199, 929], {
  type: 'scatter',
  data: {
    datasets: [
      { data: pairs(tsne2X, tsne2Y), pointRadius: 7, pointBackgroundColor: BLUE, pointBorderColor: '#15324a', pointBorderWidth: 1.5 },
      { data: pairs(tsne1X, tsne1Y), pointRadius: 7, pointBackgroundColor: PURPLE, pointBorderColor: '#2a2040', pointBorderWidth: 1.5 },
      outline(loop(tsneHull2X), loop(tsneHull2Y), BLUE, { tension: .4, fill: 'shape', backgroundColor: 'rgba(31,120,180,.31)', borderDash: [12, 6] }),
      outline(loop(tsneHull1X), loop(tsneHull1Y), PURPLE, { tension: .4, fill: 'shape', backgroundColor: 'rgba(200,162,240,.35)', borderDash: [12, 6] })
    ]
  },
  options: {
    scales: {
      x: { min: -15.38, max: 15.13, grid: { drawOnChartArea: false, tickColor: '#333', tickLength: 8 }, border: { color: '#555', width: 3 }, ticks: axisTicks(30, '#333', { stepSize: 5, callback: v => v < 0 ? '\u2212' + (-v) : String(v) }) },
      y: { min: -9.92, max: 10.83, grid: { drawOnChartArea: false, tickColor: '#333', tickLength: 8 }, border: { color: '#555', width: 3 }, ticks: axisTicks(30, '#333', { stepSize: 5, callback: v => v < 0 ? '\u2212' + (-v) : String(v) }) }
    }
  }
});
box(3502, 213, 4199, 929, 'border-top:3px solid #666;border-right:1.5px solid #ccc;');
txt('TSNE1', 3849, 987, { size: 33, anchor: 'c' });
txt('TSNE2', 3430, 571, { size: 33, anchor: 'c', rot: -90 });
txt('Consensus', 4245, 498, { size: 31 });
txt('cluster', 4245, 532, { size: 31 });
box(4245, 561, 4297, 610, `border:2.5px dashed ${PURPLE};border-top:2.5px solid #333;background:rgba(200,162,240,.35);`);
box(4264, 578, 4278, 592, `background:${PURPLE};border-radius:50%;border:1.5px solid #222;`);
box(4245, 611, 4297, 660, `border:2.5px dashed ${BLUE};border-top:2.5px solid #333;background:rgba(31,120,180,.31);`);
box(4264, 628, 4278, 642, `background:${BLUE};border-radius:50%;border:1.5px solid #222;`);
txt('1', 4311, 585, { size: 30 });
txt('2', 4311, 635, { size: 30 });

// ---- e: survival
function censorSet(ts, ss, colour) {
  return { data: pairs(ts, ss), pointStyle: 'cross', pointRadius: 12, pointBorderWidth: 3.5, pointBorderColor: colour, pointBackgroundColor: colour };
}
addChart([168, 1279, 817, 1814], {
  type: 'scatter',
  data: {
    datasets: [
      outline(kmTime2, kmSurv2, BLUE, { stepped: true, borderWidth: 6.5 }),
      censorSet(kmCensorT2, kmCensorS2, BLUE),
      outline(kmTime1, kmSurv1, PURPLE, { stepped: true, borderWidth: 6.5 }),
      censorSet(kmCensorT1, kmCensorS1, PURPLE)
    ]
  },
  options: {
    scales: {
      x: { min: -.77, max: 16.77, grid: { drawOnChartArea: false, tickColor: '#000', tickWidth: 3, tickLength: 8 }, border: { color: '#000', width: 4 }, ticks: axisTicks(47, '#000', { stepSize: 4, padding: 6 }) },
      y: { min: -.05, max: 1.05, grid: { drawOnChartArea: false, tickColor: '#000', tickWidth: 3, tickLength: 8 }, border: { color: '#000', width: 4 }, ticks: axisTicks(47, '#000', { stepSize: .25, padding: 6, callback: v => v.toFixed(2) }) }
    }
  }
}, 120);
txt('p = 0.013', 184, 1777, { size: 50 });
txt('Overall survival', 26, 1545, { size: 52, anchor: 'c', rot: -90 });
txt('Time(years)', 492, 1899, { size: 53, anchor: 'c' });
[[1542, PURPLE, 'Cluster1'], [1603, BLUE, 'Cluster2']].forEach(([y, col, label]) => {
  box(887, y - 4, 937, y + 4, `background:${col};`);
  box(910.5, y - 12, 913.5, y + 12, `background:${col};`);
  txt(label, 964, y - 2, { size: 36 });
});

// ---- f: age violins
function violinPoints(ages, widths, centre) {
  const right = ages.map((a, i) => ({ x: centre + widths[i], y: a }));
  const left = ages.map((a, i) => ({ x: centre - widths[i], y: a })).reverse();
  return [...right, ...left, right[0]];
}
function boxPoints(i) {
  const c = i + 1, hw = .149;
  return [[c - hw, boxQ1[i]], [c + hw, boxQ1[i]], [c + hw, boxQ3[i]], [c - hw, boxQ3[i]], [c - hw, boxQ1[i]]].map(([x, y]) => ({ x, y }));
}
function violinSets(i, ages, widths, offs, vals, dotColour) {
  const c = i + 1;
  return [
    { data: [{ x: c, y: ageMeans[i] }], pointRadius: 17, pointBackgroundColor: '#8b0000', pointBorderColor: '#8b0000' },
    outline([c, c + .262], [ageMeans[i], ageMeans[i]], '#000', { borderDash: [12, 5, 3, 5], borderWidth: 3 }),
    outline([c - .149, c + .149], [boxMedian[i], boxMedian[i]], '#555', { borderWidth: 7 }),
    { data: boxPoints(i), showLine: true, pointRadius: 0, borderColor: '#555', borderWidth: 3 },
    outline([c, c], [whiskerLow[i], whiskerHigh[i]], '#444', { borderWidth: 2 }),
    { data: violinPoints(ages, widths, c), showLine: true, pointRadius: 0, borderColor: '#222', borderWidth: 2.5, tension: .3 },
    { data: vals.map((v, k) => ({ x: c + offs[k], y: v })), pointRadius: 10, pointBackgroundColor: dotColour, pointBorderColor: 'transparent' }
  ];
}
addChart([1273, 1152, 2567, 1818], {
  type: 'scatter',
  data: {
    datasets: [
      ...violinSets(0, violinAge1, violinWidth1, ageOffset1, ageValue1, 'rgba(200,162,240,.3)'),
      ...violinSets(1, violinAge2, violinWidth2, ageOffset2, ageValue2, 'rgba(31,120,180,.35)')
    ]
  },
  options: {
    scales: {
      x: { min: .4, max: 2.6, grid: { color: '#eeeeee', lineWidth: 2, tickColor: '#333', tickLength: 8 }, border: { display: false }, ticks: axisTicks(10, 'transparent', { stepSize: 1 }) },
      y: { min: 2.8, max: 33.3, grid: { color: '#ebebeb', lineWidth: 3, tickColor: c => c.tick.value % 10 === 0 ? '#333' : 'transparent', tickLength: 6 }, border: { display: false }, ticks: axisTicks(45, '#444', { stepSize: 5, callback: v => v % 10 === 0 ? String(v) : '' }) }
    }
  }
});
txt('Age', 1169, 1486, { size: 50, bold: true, anchor: 'c', rot: -90 });
txt('Cluster1', 1625.5, 1853, { size: 45, anchor: 'c', color: '#444' });
txt('(n = 47)', 1625.5, 1901, { size: 45, anchor: 'c', color: '#444' });
txt('Cluster2', 2214, 1853, { size: 45, anchor: 'c', color: '#444' });
txt('(n = 41)', 2214, 1901, { size: 45, anchor: 'c', color: '#444' });
txt('<i>t</i><sub>Welch</sub>(85.83) = 1.84, <i>p</i> = 0.07, <i>g\u0302</i><sub>Hedges</sub> = 0.39, CI<sub>95%</sub> [-0.03, 0.80], <i>n</i><sub>obs</sub> = 88', 1273, 1107, { size: 30 });
txt(`log<sub>e</sub>(BF<sub>01</sub>) = 0.06, <i>\u03b4\u0302</i>${stacked2('posterior', 'difference')} = 1.63, CI${stacked2('ETI', '95%')} [-0.27, 3.65], <i>r</i>${stacked2('JZS', 'Cauchy')} = 0.71`, 2567, 1962, { size: 22, anchor: 'r' });
[[1780, 1505, 1942, 1556, '\u03bc\u0302<sub>mean</sub> = 16.02'], [2368, 1545, 2530, 1597, '\u03bc\u0302<sub>mean</sub> = 14.17']].forEach(([x0, y0, x1, y1, s]) => {
  box(x0, y0, x1, y1, 'border:2px solid #222;border-radius:7px;background:#fff;');
  txt(s, (x0 + x1) / 2, (y0 + y1) / 2, { size: 26, anchor: 'c' });
});

// ---- f: stage bars
addChart([2718, 1244, 3250, 1952], {
  type: 'bar',
  data: {
    datasets: [
      { label: 'Stage III&IV', data: pairs([0, 1], stageLate), backgroundColor: BLUE, barThickness: 218, stack: 's' },
      { label: 'Stage I&II', data: pairs([0, 1], stageEarly), backgroundColor: PURPLE, barThickness: 218, stack: 's' }
    ]
  },
  options: {
    scales: {
      x: { type: 'linear', stacked: true, min: -.6, max: 1.6, offset: false, grid: { drawOnChartArea: false, tickColor: '#555', tickLength: 4 }, border: { color: '#777', width: 3 }, ticks: axisTicks(16, '#444', { stepSize: 1, callback: v => stageGroups[v] || '' }) },
      y: { stacked: true, min: -5.2, max: 110, grid: { drawOnChartArea: false, tickColor: '#555', tickLength: 4 }, border: { color: '#777', width: 3 }, ticks: axisTicks(16, '#555', { stepSize: 25, callback: v => v + '%' }) }
    }
  }
});
txt('Chi-squared test P = 0.041', 2983, 1276, { size: 23, anchor: 'c' });
txt('Percent Weight', 2653, 1599, { size: 18, anchor: 'c', rot: -90 });
box(2869, 1196.5, 2891, 1219, `background:${PURPLE};`);
box(2984, 1196.5, 3007, 1219, `background:${BLUE};`);
txt('Stage I&amp;II', 2900.5, 1208, { size: 17 });
txt('Stage III&amp;IV', 3017, 1208, { size: 17 });
[[2863, 1567, stageEarly[0]], [2863, 1874, stageLate[0]], [3105, 1450.6, stageEarly[1]], [3105, 1757.6, stageLate[1]]].forEach(([x, y, v]) => {
  txt(v.toFixed(1) + '%', x, y, { size: 24, anchor: 'c' });
});

// ---- h: ridges
const ridgeData = [
  [3, tumorX1, tumorH1, tumorX2, tumorH2, tumorRug1, tumorRug2],
  [2, stromalX1, stromalH1, stromalX2, stromalH2, stromalRug1, stromalRug2],
  [1, immuneX1, immuneH1, immuneX2, immuneH2, immuneRug1, immuneRug2],
  [0, estimateX1, estimateH1, estimateX2, estimateH2, estimateRug1, estimateRug2]
];
function ridgeSets([row, x1, h1, x2, h2, rug1, rug2]) {
  const up = hs => hs.map(h => row + h);
  const rug = (xs, col) => ({ data: xs.map(x => ({ x, y: row })), pointStyle: 'line', rotation: 90, pointRadius: 13, pointBorderColor: col, pointBorderWidth: 2 });
  return [
    rug(rug2, BLUE),
    rug(rug1, PURPLE),
    outline(x2, up(h2), BLUE, { cubicInterpolationMode: 'monotone', fill: { value: row }, backgroundColor: 'rgba(10,110,180,.32)', borderWidth: 3.5 }),
    outline(x1, up(h1), PURPLE, { cubicInterpolationMode: 'monotone', fill: { value: row }, backgroundColor: '#f4cdb0', borderWidth: 3 })
  ];
}
addChart([3610, 1170, 4389, 1878], {
  type: 'scatter',
  data: { datasets: [...ridgeData].reverse().flatMap(ridgeSets) },
  options: {
    scales: {
      x: { min: -5.14, max: 4.42, grid: { drawOnChartArea: false, tickColor: '#333', tickLength: 5 }, border: { display: false }, ticks: axisTicks(38, '#000', { stepSize: 2.5, callback: v => v.toFixed(1) }) },
      y: { min: -.047, max: 4.107, grid: { color: c => c.tick.value > 3 ? 'transparent' : '#dddddd', lineWidth: 3, drawTicks: false }, border: { display: false }, ticks: { display: false, stepSize: 1, includeBounds: false } }
    }
  }
});
[1359, 1530, 1700.4, 1870].forEach((y, i) => txt(ridgeNames[i], 3600, y - 24, { size: 34, anchor: 'r' }));
txt('ESTIMATEscore', 4005, 1955, { size: 48, anchor: 'c' });
box(4451, 1525, 4488, 1561, `background:${PURPLE};`);
box(4451, 1565, 4488, 1602, `background:${BLUE};`);
txt('Cluster1', 4511, 1543, { size: 35 });
txt('Cluster2', 4511, 1584, { size: 35 });

// ---- g and i: sample heatmaps
function digits(block) { return block.replace(/\s/g, '').split('').map(Number); }
function splitBlocks(s) {
  const [l, r] = s.split('|');
  const fit = (b, n) => { const d = digits(b).slice(0, n); while (d.length < n) d.push(4); return d; };
  return [fit(l, 26), fit(r, 17)];
}
const trackColourFns = {
  stromal: diverge('#efb92a', '#f0663a'),
  immune: diverge('#00a3bd', '#c8203c'),
  estimate: diverge('#7f9ba0', '#86946c'),
  tumor: diverge('#cc9540', '#c8704f'),
  age: d => mix('#c0ae8a', '#ffffff', d * .22),
  stage: d => d ? TRACK_PURPLE : TRACK_BLUE,
  ostime: diverge('#c9573a', '#5c4570')
};
const clusterBlocks = [Array(26).fill(TRACK_BLUE), Array(17).fill(TRACK_PURPLE)];
function trackRows(list) {
  return [0, 1].map(side => list.map(([str, fn]) => typeof str === 'string' ? splitBlocks(str)[side].map(fn) : str[side]));
}
function sampleHeat(trackList, rows, names, geo) {
  const cols = trackRows(trackList);
  const trackCell = { borderWidth: { top: 2.75, bottom: 2.75 }, borderColor: '#fff' };
  heatChart([geo.lx0, geo.trackTop, geo.lx1, geo.trackBottom], cols[0], trackCell);
  heatChart([geo.rx0, geo.trackTop, geo.rx1, geo.trackBottom], cols[1], trackCell);
  const parsed = rows.map(splitBlocks);
  const paint = d => heatPalette[d];
  heatChart([geo.lx0, geo.bodyTop, geo.lx1, geo.bodyBottom], parsed.map(r => r[0].map(paint)));
  heatChart([geo.rx0, geo.bodyTop, geo.rx1, geo.bodyBottom], parsed.map(r => r[1].map(paint)));
  const rowH = (geo.bodyBottom - geo.bodyTop) / names.length;
  names.forEach((n, i) => {
    txt(n, geo.labelX, geo.bodyTop + (i + .5) * rowH, { size: geo.labelSize, bold: true, italic: true, color: geo.labelColour(i), anchor: geo.labelAnchor });
  });
}
sampleHeat([
  [trackStromal, trackColourFns.stromal], [trackImmune, trackColourFns.immune], [trackEstimate, trackColourFns.estimate], [trackTumor, trackColourFns.tumor],
  [trackAge, trackColourFns.age], [trackStage, trackColourFns.stage], [trackOS, trackColourFns.stage], [trackOSTime, trackColourFns.ostime], [clusterBlocks]
], immuneRows, immuneRowNames, {
  lx0: 79, lx1: 857.6, rx0: 865.6, rx1: 1374,
  trackTop: 2120.75, trackBottom: 2512.25, bodyTop: 2518, bodyBottom: 3738,
  labelX: 1382, labelAnchor: 'l', labelSize: 29,
  labelColour: i => i < 14 ? mix('#a10f3a', '#c6c6c6', i / 14) : mix('#c6c6c6', '#1f6b3d', (i - 14) / 14)
});
sampleHeat([
  [trackAge, trackColourFns.age], [trackStage, trackColourFns.stage], [trackOS, trackColourFns.stage], [trackOSTime, trackColourFns.ostime], [clusterBlocks]
], hallmarkRows, hallmarkRowNames, {
  lx0: 2958, lx1: 3733, rx0: 3740, rx1: 4246,
  trackTop: 2104.5, trackBottom: 2322, bodyTop: 2328, bodyBottom: 3722,
  labelX: 2950, labelAnchor: 'r', labelSize: 26,
  labelColour: i => i < 24 ? mix('#1f6fae', '#c8c8c8', i / 24) : mix('#c8c8c8', '#c4182f', (i - 24) / 25)
});
['StromalScore', 'ImmuneScore', 'ESTIMATEScore', 'TumorPurity', 'Age', 'Stage', 'OS', 'OS.time', 'Cluster'].forEach((n, i) => txt(n, 1382, 2142.5 + i * 43.5, { size: 33 }));
['Age', 'Stage', 'OS', 'OS.time', 'Cluster'].forEach((n, i) => txt(n, 4253, 2126 + i * 43.5, { size: 32 }));

// colour keys
function colourBar(x0, y0, x1, y1, stops, labels, labelX, size) {
  box(x0, y0, x1, y1, `background:linear-gradient(to bottom,${stops});`);
  labels.forEach(([l, y]) => {
    txt(l, labelX, y, { size, color: '#111' });
    box(x0, y - 1, x0 + 7, y + 1, 'background:#fff;');
    box(x1 - 7, y - 1, x1, y + 1, 'background:#fff;');
  });
}
function swatches(x, w, items) {
  items.forEach(([label, colour, y0, y1, ly]) => {
    box(x, y0, x + w, y1, `background:${colour};`);
    txt(label, x + 41, ly, { size: 29, color: '#111' });
  });
}
function keyColumn(x, dy) {
  txt('Age', x, 2473.7 + dy, { size: 28, bold: true });
  colourBar(x - 2, 2502 + dy, x + 32.5, 2711 + dy, '#406f7c,#4a7a86 20%,#ffffff 38%,#c4b292 80%,#bfab87', [['100', 2506], ['80', 2545], ['60', 2585], ['40', 2624], ['20', 2664], ['0', 2703]].map(([l, y]) => [l, y + dy]), x + 41, 29);
  txt('Stage', x, 2751.6 + dy, { size: 28, bold: true });
  swatches(x, 30, [['Stage III&amp;IV', TRACK_BLUE, 2782 + dy, 2812 + dy, 2794 + dy], ['Stage I&amp;II', TRACK_PURPLE, 2814 + dy, 2843 + dy, 2827 + dy]]);
  txt('OS', x, 2885 + dy, { size: 28, bold: true });
  swatches(x, 30, [['Alive', TRACK_BLUE, 2916 + dy, 2946 + dy, 2929 + dy], ['Dead', TRACK_PURPLE, 2948 + dy, 2977 + dy, 2961 + dy]]);
  txt('OS.time', x, 3019 + dy, { size: 28, bold: true });
  colourBar(x - 2, 3048 + dy, x + 32.5, 3220 + dy, '#5c4570,#ffffff 50%,#c9573a', [['10', 3052 + dy], ['5', 3131 + dy], ['0', 3210 + dy]], x + 41, 29);
  txt('Cluster', x, 3259 + dy, { size: 28, bold: true });
  swatches(x, 30, [['Cluster1', TRACK_BLUE, 3290 + dy, 3320 + dy, 3303 + dy], ['Cluster2', TRACK_PURPLE, 3322 + dy, 3351 + dy, 3334 + dy]]);
}
const heatStops = '#a10f3a,#ffffff 50%,#1f6b3d';
txt('Scaled Score', 1751, 2551, { size: 27, bold: true, italic: true, anchor: 'c', rot: -90 });
colourBar(1775.5, 2465, 1810, 2638, heatStops, [['2', 2469], ['-2', 2629]], 1817, 29);
txt('Scaled Score', 4270.7, 2556, { size: 27, bold: true, italic: true, anchor: 'c', rot: -90 });
colourBar(4295, 2470, 4330, 2642, heatStops, [['2', 2473], ['-2', 2634]], 4338, 29);
[['StromalScore', '#f0663a,#ffffff 50%,#efb92a', 0], ['ImmuneScore', '#c8203c,#ffffff 50%,#00a3bd', 240.3], ['ESTIMATEScore', '#86946c,#ffffff 50%,#7f9ba0', 480.6], ['TumorPurity', '#c8704f,#ffffff 50%,#cc9540', 720.9]].forEach(([n, stops, dy]) => {
  txt(n, 1867, 2473.7 + dy, { size: 28, bold: true });
  colourBar(1865, 2502 + dy, 1900, 2675 + dy, stops, ['1', '0.5', '0', '-0.5', '-1'].map((l, i) => [l, 2506 + i * 40 + dy]), 1907.6, 29);
});
keyColumn(2121, 0);
keyColumn(4387, 4);
</script>
</body>
</html>
